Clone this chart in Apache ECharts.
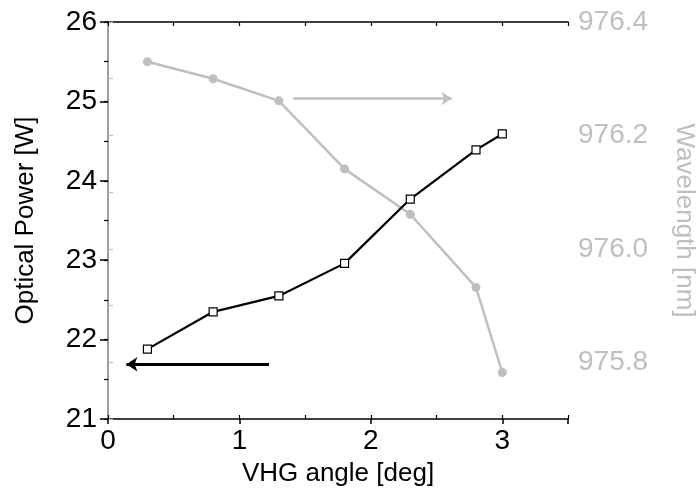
<!DOCTYPE html>
<html><head><meta charset="utf-8">
<script src="https://cdn.jsdelivr.net/npm/echarts@6/dist/echarts.min.js"></script>
<style>html,body{margin:0;padding:0;background:#fff}#c{width:698px;height:497px}</style>
</head><body><div id="c"></div>
<script>
var angles = [0.3, 0.8, 1.3, 1.8, 2.3, 2.8, 3.0];
var power = [21.88, 22.35, 22.55, 22.96, 23.77, 24.39, 24.59];
var wavelength = [976.33, 976.30, 976.261, 976.141, 976.061, 975.932, 975.782];
var powerArrow = [[1.225, 21.69], [0.14, 21.69]];
var wavelengthArrow = [[1.41, 976.265], [2.615, 976.265]];

var GRAY = '#bfbfbf';
var FONT = 'Liberation Sans, Arial, sans-serif';
var TICKFS = 28, NAMEFS = 26;
var chart = echarts.init(document.getElementById('c'));
function pairs(xs, ys){ return xs.map(function(x,i){return [x, ys[i]];}); }
function intOnly(v){ return Math.abs(v-Math.round(v))<1e-6 ? String(Math.round(v)) : ''; }
chart.setOption({
  animation: false,
  grid: {left: 108, right: 130, top: 22, bottom: 78, containLabel:false, outerBoundsMode:'none'},
  xAxis: [
    {type:'value', position:'bottom', min:0, max:3.5, interval:0.5,
     name:'VHG angle [deg]', nameLocation:'middle', nameGap:42,
     nameTextStyle:{fontFamily:FONT, fontSize:NAMEFS, color:'#000'},
     axisLine:{lineStyle:{color:'#000', width:1.5}},
     axisTick:{inside:true, length:4, lineStyle:{color:'#000', width:1.2}},
     axisLabel:{fontFamily:FONT, fontSize:TICKFS, color:'#000', margin:8, formatter:intOnly},
     splitLine:{show:false}},
    {type:'value', position:'bottom', min:0, max:3.5, interval:1,
     axisLine:{show:false}, axisTick:{inside:false, length:5, lineStyle:{color:'#000', width:1.5}},
     axisLabel:{show:false}, splitLine:{show:false}},
    {type:'value', position:'top', min:0, max:3.5, interval:0.5,
     axisLine:{lineStyle:{color:'#000', width:1.5}},
     axisTick:{inside:true, length:4, lineStyle:{color:'#000', width:1.2}},
     axisLabel:{show:false}, splitLine:{show:false}}
  ],
  yAxis: [
    {type:'value', position:'left', min:21, max:26, interval:0.5,
     name:'Optical Power [W]', nameLocation:'middle', nameGap:69,
     nameTextStyle:{fontFamily:FONT, fontSize:NAMEFS, color:'#000'},
     axisLine:{lineStyle:{color:'#000', width:1.5}},
     axisTick:{inside:false, length:4, lineStyle:{color:'#000', width:1.2}},
     axisLabel:{fontFamily:FONT, fontSize:TICKFS, color:'#000', margin:11, formatter:intOnly},
     splitLine:{show:false}},
    {type:'value', position:'left', min:21, max:26, interval:1,
     axisLine:{show:false}, axisTick:{inside:false, length:8, lineStyle:{color:'#000', width:1.5}},
     axisLabel:{show:false}, splitLine:{show:false}},
    {type:'value', position:'right', min:975.7, max:976.4, interval:0.1,
     name:'Wavelength [nm]', nameLocation:'middle', nameGap:103, nameRotate:-90,
     nameTextStyle:{fontFamily:FONT, fontSize:NAMEFS, color:GRAY},
     axisLine:{lineStyle:{color:GRAY, width:1.5}},
     axisTick:{inside:false, length:5, lineStyle:{color:GRAY, width:1.2}},
     axisLabel:{fontFamily:FONT, fontSize:TICKFS, color:GRAY, margin:10,
       formatter:function(v){return Math.round(v*10)%2===0 ? v.toFixed(1) : '';}},
     splitLine:{show:false}}
  ],
  series: [
    {type:'line', xAxisIndex:0, yAxisIndex:0, data:pairs(angles, power),
     symbol:'rect', symbolSize:8, z:3,
     lineStyle:{color:'#000', width:2.2},
     itemStyle:{color:'#fff', borderColor:'#000', borderWidth:1.2},
     markLine:{silent:true, symbol:['none','arrow'], symbolSize:11, label:{show:false},
       lineStyle:{color:'#000', width:3, type:'solid'},
       data:[[{coord:powerArrow[0]},{coord:powerArrow[1]}]]}},
    {type:'line', xAxisIndex:0, yAxisIndex:2, data:pairs(angles, wavelength),
     symbol:'circle', symbolSize:9, z:2,
     lineStyle:{color:GRAY, width:2.5},
     itemStyle:{color:GRAY},
     markLine:{silent:true, symbol:['none','arrow'], symbolSize:10, label:{show:false},
       lineStyle:{color:GRAY, width:2.5, type:'solid'},
       data:[[{coord:wavelengthArrow[0]},{coord:wavelengthArrow[1]}]]}}
  ]
});
</script></body></html>
